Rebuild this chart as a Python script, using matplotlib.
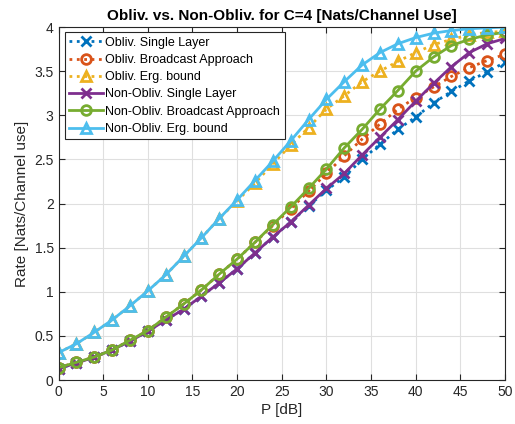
import matplotlib
matplotlib.use('Agg')
from matplotlib import pyplot as plt
import numpy as np

plt.rcParams['font.family'] = ['Liberation Sans', 'DejaVu Sans']

# P [dB]
p_db = np.arange(0, 51, 2)

obliv_single = [0.13, 0.19, 0.26, 0.34, 0.44, 0.55, 0.68, 0.80, 0.95, 1.10,
                1.26, 1.44, 1.62, 1.79, 1.97, 2.15, 2.30, 2.50, 2.67, 2.84,
                2.98, 3.14, 3.27, 3.39, 3.49, 3.60]
obliv_broadcast = [0.14, 0.20, 0.26, 0.34, 0.45, 0.56, 0.71, 0.86, 1.02, 1.20,
                   1.37, 1.56, 1.75, 1.94, 2.14, 2.34, 2.54, 2.73, 2.90, 3.07,
                   3.20, 3.32, 3.44, 3.54, 3.62, 3.69]
obliv_erg = [0.31, 0.41, 0.54, 0.68, 0.84, 1.01, 1.19, 1.40, 1.61, 1.83,
             2.03, 2.23, 2.45, 2.66, 2.86, 3.07, 3.22, 3.38, 3.50, 3.61,
             3.71, 3.80, 3.86, 3.91, 3.94, 3.95]
nonobliv_single = [0.13, 0.19, 0.26, 0.34, 0.44, 0.55, 0.68, 0.80, 0.95, 1.10,
                   1.26, 1.44, 1.62, 1.79, 1.98, 2.17, 2.34, 2.55, 2.75, 2.95,
                   3.16, 3.36, 3.55, 3.71, 3.81, 3.87]
nonobliv_broadcast = [0.14, 0.20, 0.26, 0.34, 0.45, 0.56, 0.71, 0.86, 1.02, 1.20,
                      1.37, 1.56, 1.76, 1.96, 2.17, 2.39, 2.63, 2.84, 3.07, 3.28,
                      3.50, 3.66, 3.79, 3.86, 3.91, 3.94]
nonobliv_erg = [0.31, 0.41, 0.54, 0.68, 0.84, 1.01, 1.19, 1.40, 1.61, 1.83,
                2.04, 2.26, 2.48, 2.71, 2.95, 3.18, 3.38, 3.57, 3.71, 3.81,
                3.88, 3.93, 3.96, 3.98, 3.99, 4.00]

fig = plt.figure(figsize=(5.15, 4.24), dpi=100)
ax = fig.add_axes([58.5 / 515, 44 / 424, 446.5 / 515, 353 / 424])

kw = dict(lw=2, ms=7, mfc='none', mew=2)
ax.plot(p_db, obliv_single, ':x', color='#0072BD', label='Obliv. Single Layer', **kw)
ax.plot(p_db, obliv_broadcast, ':o', color='#D95319', label='Obliv. Broadcast Approach', **kw)
ax.plot(p_db, obliv_erg, ':^', color='#EDB120', label='Obliv. Erg. bound', **kw)
ax.plot(p_db, nonobliv_single, '-x', color='#7E2F8E', label='Non-Obliv. Single Layer', **kw)
ax.plot(p_db, nonobliv_broadcast, '-o', color='#77AC30', label='Non-Obliv. Broadcast Approach', **kw)
ax.plot(p_db, nonobliv_erg, '-^', color='#4DBEEE', label='Non-Obliv. Erg. bound', **kw)

ax.set_xlim(0, 50)
ax.set_ylim(0, 4)
ax.set_xticks(np.arange(0, 51, 5))
ax.set_yticks(np.arange(0, 4.01, 0.5))
ax.set_yticklabels(['0', '0.5', '1', '1.5', '2', '2.5', '3', '3.5', '4'])
ax.grid(True, color='#dfdfdf', lw=0.8)
ax.set_axisbelow(True)
ax.tick_params(direction='in', top=True, right=True, labelsize=10, colors='#262626', length=4)
for s in ax.spines.values():
    s.set_color('#262626')
    s.set_linewidth(0.8)

ax.set_xlabel('P [dB]', fontsize=11, color='#262626', labelpad=3)
ax.set_ylabel('Rate [Nats/Channel use]', fontsize=11, color='#262626', labelpad=4)
ax.set_title('Obliv. vs. Non-Obliv. for C=4 [Nats/Channel Use]', fontsize=11,
             fontweight='bold', pad=5)

leg = ax.legend(loc='upper left', bbox_to_anchor=(0.014, 0.985), fontsize=9,
                handlelength=2.7, handletextpad=0.2, labelspacing=0.42,
                borderpad=0.35, borderaxespad=0, fancybox=False, framealpha=1,
                edgecolor='#262626')
leg.get_frame().set_linewidth(0.8)

plt.savefig('out.png', dpi=100)
